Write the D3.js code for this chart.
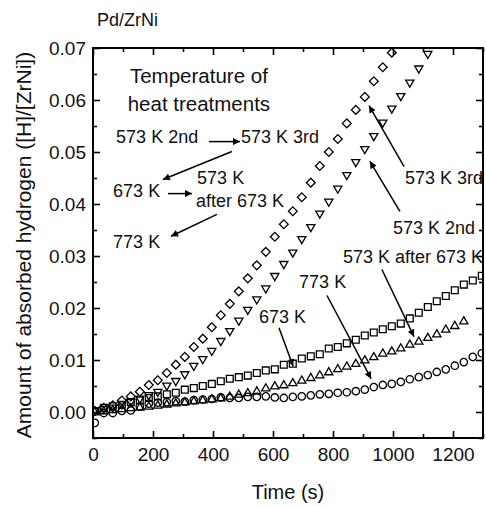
<!DOCTYPE html>
<html>
<head>
<meta charset="utf-8">
<script src="https://cdn.jsdelivr.net/npm/d3@7"></script>
<style>
  body { margin: 0; background: #fff; }
  svg { display: block; font-family: "Liberation Sans", Arial, sans-serif; }
  .tick text { font-size: 19px; fill: #111; }
  .tick line { stroke: #000; stroke-width: 1.6; }
  .domain { display: none; }
</style>
</head>
<body>
<div id="chart"></div>
<script>
// sampling times (s), shared by every run
var times = [6, 36, 66, 96, 126, 156, 186, 216, 246, 276, 306, 336, 366, 396, 426,
  456, 486, 516, 546, 576, 606, 636, 666, 696, 726, 756, 786, 816, 846, 876,
  906, 936, 966, 996, 1026, 1056, 1086, 1116, 1146, 1176, 1206, 1236, 1266, 1296]

// amount of absorbed hydrogen, [H]/[ZrNi]
var run573third = [0.0002, 0.0008, 0.0013, 0.0022, 0.0030, 0.0039, 0.0052, 0.0061, 0.0075, 0.0091,
  0.0106, 0.0125, 0.0141, 0.0163, 0.0186, 0.0208, 0.0232, 0.0257, 0.0282, 0.0308,
  0.0337, 0.0361, 0.0386, 0.0413, 0.0441, 0.0473, 0.0500, 0.0525, 0.0555, 0.0581,
  0.0606, 0.0636, 0.0663, 0.0691]

var run573second = [0.0002, 0.0005, 0.0008, 0.0014, 0.0019, 0.0025, 0.0032, 0.0038, 0.0050, 0.0059,
  0.0072, 0.0088, 0.0101, 0.0117, 0.0136, 0.0155, 0.0175, 0.0196, 0.0216, 0.0237,
  0.0261, 0.0284, 0.0306, 0.0332, 0.0355, 0.0381, 0.0404, 0.0429, 0.0455, 0.0480,
  0.0505, 0.0530, 0.0556, 0.0583, 0.0607, 0.0633, 0.0660, 0.0688]

var run673 = [0.0002, 0.0008, 0.0011, 0.0014, 0.0019, 0.0022, 0.0027, 0.0030, 0.0034, 0.0037,
  0.0043, 0.0046, 0.0050, 0.0054, 0.0059, 0.0064, 0.0067, 0.0070, 0.0075, 0.0080,
  0.0082, 0.0091, 0.0093, 0.0103, 0.0107, 0.0111, 0.0122, 0.0125, 0.0132, 0.0139,
  0.0147, 0.0153, 0.0159, 0.0165, 0.0170, 0.0180, 0.0191, 0.0202, 0.0213, 0.0223,
  0.0234, 0.0245, 0.0253, 0.0262]

var run573after673 = [0.0000, 0.0002, 0.0004, 0.0006, 0.0008, 0.0009, 0.0011, 0.0013, 0.0015, 0.0017,
  0.0019, 0.0021, 0.0023, 0.0025, 0.0027, 0.0030, 0.0034, 0.0037, 0.0040, 0.0046,
  0.0050, 0.0052, 0.0056, 0.0061, 0.0066, 0.0071, 0.0077, 0.0083, 0.0088, 0.0093,
  0.0100, 0.0106, 0.0113, 0.0117, 0.0123, 0.0130, 0.0136, 0.0143, 0.0150, 0.0159,
  0.0166, 0.0175]

var run773 = [-0.0021, -0.0002, -0.0002, 0.0002, 0.0003, 0.0011, 0.0016, 0.0018, 0.0019, 0.0021,
  0.0020, 0.0023, 0.0024, 0.0025, 0.0028, 0.0027, 0.0027, 0.0029, 0.0029, 0.0030,
  0.0028, 0.0027, 0.0029, 0.0030, 0.0032, 0.0034, 0.0035, 0.0037, 0.0038, 0.0040,
  0.0043, 0.0048, 0.0052, 0.0054, 0.0058, 0.0063, 0.0067, 0.0071, 0.0077, 0.0082,
  0.0089, 0.0096, 0.0106, 0.0113]

var xTicks = [0, 200, 400, 600, 800, 1000, 1200]
var xMinor = [100, 300, 500, 700, 900, 1100, 1300]
var yTicks = [0, 0.01, 0.02, 0.03, 0.04, 0.05, 0.06, 0.07]
var yMinor = [-0.005, 0.005, 0.015, 0.025, 0.035, 0.045, 0.055, 0.065]

// labels and arrows placed in data units [time, amount]
var labels = [
  ["Temperature of", 353, 0.0632, "middle", 20.5],
  ["heat treatments", 353, 0.0578, "middle", 20.5],
  ["573 K 2nd", 77, 0.0518, "start", 18],
  ["573 K 3rd", 493, 0.0518, "start", 18],
  ["573 K", 347, 0.0439, "start", 18],
  ["673 K", 67, 0.0414, "start", 18],
  ["after 673 K", 343, 0.0395, "start", 18],
  ["773 K", 67, 0.0316, "start", 18],
  ["573 K 3rd", 1040, 0.0438, "start", 18],
  ["573 K 2nd", 1000, 0.0343, "start", 18],
  ["573 K after 673 K", 833, 0.0286, "start", 18],
  ["773 K", 687, 0.0239, "start", 18],
  ["673 K", 553, 0.0172, "start", 18]
]

var arrows = [
  [387, 0.0520, 490, 0.0520],
  [463, 0.0501, 233, 0.0447],
  [250, 0.0420, 330, 0.0420],
  [413, 0.0380, 260, 0.0338],
  [1037, 0.0472, 920, 0.0589],
  [1023, 0.0386, 923, 0.0482],
  [963, 0.0274, 1070, 0.0145],
  [780, 0.0224, 927, 0.0064],
  [620, 0.0162, 667, 0.0088]
]

var width = 486, height = 506
var margin = {top: 48, right: 3, bottom: 68, left: 93}
var innerW = width - margin.left - margin.right
var innerH = height - margin.top - margin.bottom

var x = d3.scaleLinear().domain([0, 1300]).range([0, innerW])
var y = d3.scaleLinear().domain([-0.005, 0.07]).range([innerH, 0])

var svg = d3.select("#chart").append("svg")
    .attr("width", width)
    .attr("height", height)

svg.append("defs").append("clipPath").attr("id", "plotclip")
    .append("rect").attr("width", innerW).attr("height", innerH)

svg.select("defs").append("marker")
    .attr("id", "head")
    .attr("markerUnits", "userSpaceOnUse")
    .attr("viewBox", "0 0 10 10")
    .attr("refX", 10).attr("refY", 5)
    .attr("markerWidth", 9).attr("markerHeight", 7)
    .attr("orient", "auto")
    .append("path").attr("d", "M0,0 L10,5 L0,10 Z").attr("fill", "#000")

var g = svg.append("g").attr("transform", `translate(${margin.left},${margin.top})`)

// axes, ticks pointing inward on all four sides
g.append("g").attr("transform", `translate(0,${innerH})`)
    .call(d3.axisBottom(x).tickValues(xTicks).tickSize(-7).tickPadding(10).tickFormat(d3.format("d")))
g.append("g").attr("transform", `translate(0,${innerH})`)
    .call(d3.axisBottom(x).tickValues(xMinor).tickSize(-4).tickFormat(""))
g.append("g")
    .call(d3.axisTop(x).tickValues(xTicks).tickSize(-7).tickFormat(""))
g.append("g")
    .call(d3.axisTop(x).tickValues(xMinor).tickSize(-4).tickFormat(""))

g.append("g")
    .call(d3.axisLeft(y).tickValues(yTicks).tickSize(-7).tickPadding(7).tickFormat(d3.format(".2f")))
g.append("g")
    .call(d3.axisLeft(y).tickValues(yMinor).tickSize(-4).tickFormat(""))
g.append("g").attr("transform", `translate(${innerW},0)`)
    .call(d3.axisRight(y).tickValues(yTicks).tickSize(-7).tickFormat(""))
g.append("g").attr("transform", `translate(${innerW},0)`)
    .call(d3.axisRight(y).tickValues(yMinor).tickSize(-4).tickFormat(""))

g.append("rect")
    .attr("width", innerW).attr("height", innerH)
    .attr("fill", "none").attr("stroke", "#000").attr("stroke-width", 2)

// data markers
var plot = g.append("g").attr("clip-path", "url(#plotclip)")

var series = [
  {values: run773, shape: "circle"},
  {values: run573after673, shape: "triUp"},
  {values: run673, shape: "square"},
  {values: run573second, shape: "triDown"},
  {values: run573third, shape: "diamond"}
]

var shapes = {
  circle: "M3.7,0 A3.7,3.7 0 1,1 -3.7,0 A3.7,3.7 0 1,1 3.7,0 Z",
  square: "M-3.4,-3.4 H3.4 V3.4 H-3.4 Z",
  diamond: "M0,-4.4 L4.4,0 L0,4.4 L-4.4,0 Z",
  triUp: "M0,-4.3 L4.1,2.8 L-4.1,2.8 Z",
  triDown: "M0,4.3 L4.1,-2.8 L-4.1,-2.8 Z"
}

series.forEach(s => {
  plot.append("g").selectAll("path")
    .data(s.values.map((v, i) => [times[i], v]))
    .enter().append("path")
    .attr("transform", d => `translate(${x(d[0])},${y(d[1])})`)
    .attr("d", shapes[s.shape])
    .attr("fill", "none")
    .attr("stroke", "#000")
    .attr("stroke-width", 1.3)
})

// annotations
g.append("g").selectAll("text").data(labels)
  .enter().append("text")
    .attr("x", d => x(d[1]))
    .attr("y", d => y(d[2]))
    .attr("text-anchor", d => d[3])
    .attr("font-size", d => d[4] + "px")
    .attr("fill", "#111")
    .text(d => d[0])

g.append("g").selectAll("line").data(arrows)
  .enter().append("line")
    .attr("x1", d => x(d[0])).attr("y1", d => y(d[1]))
    .attr("x2", d => x(d[2])).attr("y2", d => y(d[3]))
    .attr("stroke", "#000")
    .attr("stroke-width", 1.5)
    .attr("marker-end", "url(#head)")

// titles
svg.append("text")
    .attr("x", 97).attr("y", 26)
    .attr("font-size", "18px").attr("fill", "#111")
    .text("Pd/ZrNi")

svg.append("text")
    .attr("x", margin.left + innerW / 2).attr("y", 499)
    .attr("text-anchor", "middle")
    .attr("font-size", "20px").attr("fill", "#111")
    .text("Time (s)")

svg.append("text")
    .attr("transform", "translate(31,245) rotate(-90)")
    .attr("text-anchor", "middle")
    .attr("font-size", "21px").attr("fill", "#111")
    .text("Amount of absorbed hydrogen ([H]/[ZrNi])")
</script>
</body>
</html>
